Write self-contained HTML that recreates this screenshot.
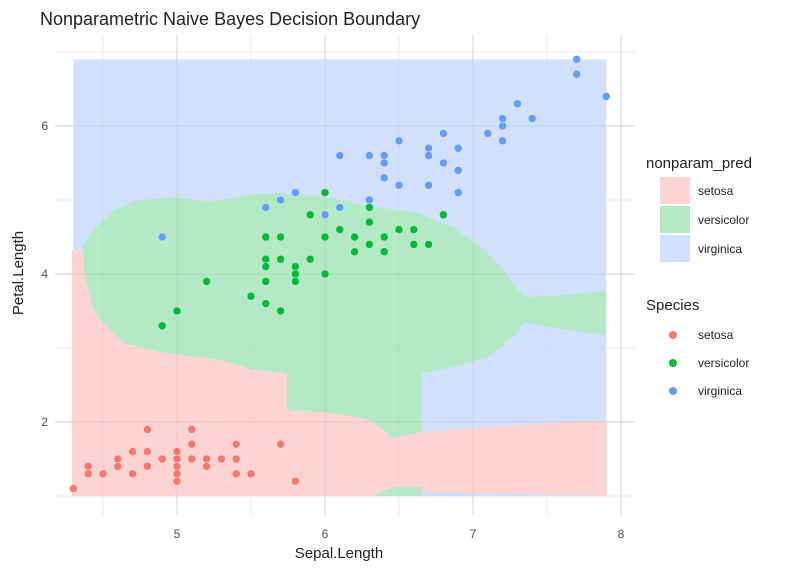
<!DOCTYPE html>
<html><head><meta charset="utf-8"><style>
body{margin:0;background:#fff;font-family:"Liberation Sans",sans-serif}
svg text{font-family:"Liberation Sans",sans-serif}
</style></head><body>
<svg id="chart" width="800" height="571">
<text x="40" y="25" font-size="18" fill="#222">Nonparametric Naive Bayes Decision Boundary</text>
<g id="grid"></g>
<g id="regions"></g>
<g id="grid2"></g>
<g id="pts"></g>
<g id="axes"></g>
<text x="339" y="558" text-anchor="middle" font-size="15" fill="#222">Sepal.Length</text>
<text transform="translate(23,273) rotate(-90)" text-anchor="middle" font-size="15" fill="#222">Petal.Length</text>
<g>
<text x="646" y="168" font-size="15" fill="#222">nonparam_pred</text>
<rect x="660" y="177" width="30" height="27" fill="#fcd5d2"/>
<text x="698" y="195" font-size="12" fill="#222">setosa</text>
<rect x="660" y="206" width="30" height="27" fill="#b3e9c3"/>
<text x="698" y="224" font-size="12" fill="#222">versicolor</text>
<rect x="660" y="235" width="30" height="27" fill="#d1e0fc"/>
<text x="698" y="253" font-size="12" fill="#222">virginica</text>
</g>
<g>
<text x="646" y="310" font-size="15" fill="#222">Species</text>
<circle cx="673" cy="335" r="4" fill="#f8766d"/>
<text x="698" y="339" font-size="12" fill="#222">setosa</text>
<circle cx="673" cy="363" r="4" fill="#00ba38"/>
<text x="698" y="367" font-size="12" fill="#222">versicolor</text>
<circle cx="673" cy="391" r="4" fill="#619cff"/>
<text x="698" y="395" font-size="12" fill="#222">virginica</text>
</g>
</svg>
<script>
const xTicks=[5,6,7,8];
const yTicks=[2,4,6];
const setosaX=[4.8,5.1,5.1,5.4,5.7,4.7,4.8,5.0,4.6,4.9,5.0,5.1,5.2,5.3,5.4,4.4,4.6,4.8,5.0,5.2,4.4,4.5,4.7,5.0,5.4,5.5,5.0,5.8,4.3];
const setosaY=[1.9,1.9,1.7,1.7,1.7,1.6,1.6,1.6,1.5,1.5,1.5,1.5,1.5,1.5,1.5,1.4,1.4,1.4,1.4,1.4,1.3,1.3,1.3,1.3,1.3,1.3,1.2,1.2,1.1];
const versiX=[6.0,6.3,5.9,6.8,6.3,6.1,6.5,6.6,5.6,5.7,6.0,6.2,6.4,6.3,6.6,6.7,6.2,6.4,5.6,5.7,5.9,5.6,5.8,5.8,6.0,5.6,5.8,5.2,5.5,5.6,5.7,5.0,4.9];
const versiY=[5.1,4.9,4.8,4.8,4.7,4.6,4.6,4.6,4.5,4.5,4.5,4.5,4.5,4.4,4.4,4.4,4.3,4.3,4.2,4.2,4.2,4.1,4.1,4.0,4.0,3.9,3.9,3.9,3.7,3.6,3.5,3.5,3.3];
const virgX=[7.7,7.7,7.9,7.3,7.2,7.4,7.2,7.1,6.8,6.5,7.2,6.7,6.9,6.1,6.3,6.4,6.7,6.4,6.8,6.9,6.4,6.5,6.7,6.9,5.8,5.7,6.3,5.6,6.1,6.0,4.9];
const virgY=[6.9,6.7,6.4,6.3,6.1,6.1,6.0,5.9,5.9,5.8,5.8,5.7,5.7,5.6,5.6,5.6,5.6,5.5,5.5,5.4,5.3,5.2,5.2,5.1,5.1,5.0,5.0,4.9,4.9,4.8,4.5];
const sx=v=>177+(v-5)*148;
const sy=v=>126-(v-6)*74;
const NS='http://www.w3.org/2000/svg';
function mk(tag,attrs,parent){const e=document.createElementNS(NS,tag);for(const k in attrs)e.setAttribute(k,attrs[k]);parent.appendChild(e);return e;}
function drawGrid(grid,minorCol,majorCol){
for(const v of [4.5,5.5,6.5,7.5]){const l=mk('line',{x1:sx(v),x2:sx(v),y1:35,y2:515,stroke:minorCol,'stroke-width':1},grid);

}
for(const v of [1,3,5,7]){const l=mk('line',{x1:55,x2:635,y1:sy(v),y2:sy(v),stroke:minorCol,'stroke-width':1},grid);

}
for(const v of xTicks){const l=mk('line',{x1:sx(v),x2:sx(v),y1:35,y2:515,stroke:majorCol,'stroke-width':1.2},grid);

}
for(const v of yTicks){const l=mk('line',{x1:55,x2:635,y1:sy(v),y2:sy(v),stroke:majorCol,'stroke-width':1.2},grid);

}
}
drawGrid(document.getElementById('grid'),'#f0f0f0','#e4e4e4');
const reg=document.getElementById('regions');
const bg=mk('rect',{x:sx(4.3),y:sy(6.9),width:sx(7.9)-sx(4.3),height:sy(1)-sy(6.9),fill:'#d1e0fc'},reg);


const greenPts=[[83,245],[85,242],[96,227],[114,210],[135,201],[174,197],[210,202],[249,195],[274,193],[324,197],[364,205],[417,213],[453,227],[481,247],[503,270],[524,297],[553,296],[606,291],[606,335],[581,332],[539,325],[524,322],[517,333],[489,357],[453,367],[422,373],[422,440],[287,440],[85,320]];
const g1=mk('polygon',{points:greenPts.join(' '),fill:'#b3e9c3'},reg);


const g2=mk('polygon',{points:'374,496 385,490 395,487 422,487 422,496',fill:'#b3e9c3'},reg);


const pinkPts=[[72,250],[83,250],[85,275],[93,307],[103,323],[124,343],[160,352],[221,360],[253,370],[287,373],[287,410],[324,412],[364,418],[381,427],[392,438],[401,436],[422,432],[489,427],[547,423],[583,421],[607,421],[607,496],[560,495],[503,494],[422,492],[422,487],[395,487],[385,490],[374,496],[72,496]];
const p1=mk('polygon',{points:pinkPts.join(' '),fill:'#fcd5d2'},reg);


drawGrid(document.getElementById('grid2'),'rgba(0,0,0,0.025)','rgba(0,0,0,0.05)');
const pts=document.getElementById('pts');
function drawPts(X,Y,col,name){for(let i=0;i<X.length;i++){const c=mk('circle',{cx:sx(X[i]),cy:sy(Y[i]),r:4,fill:col,stroke:'#fff','stroke-width':0.4},pts);

}}
drawPts(setosaX,setosaY,'#f8766d','point-setosa');
drawPts(versiX,versiY,'#00ba38','point-versicolor');
drawPts(virgX,virgY,'#619cff','point-virginica');
const ax=document.getElementById('axes');
for(const v of xTicks){const t=mk('text',{x:sx(v),y:538,'text-anchor':'middle','font-size':12,fill:'#4d4d4d'},ax);t.textContent=v;

}
for(const v of yTicks){const t=mk('text',{x:48,y:sy(v)+4,'text-anchor':'end','font-size':12,fill:'#4d4d4d'},ax);t.textContent=v;

}
</script>
</body></html>
